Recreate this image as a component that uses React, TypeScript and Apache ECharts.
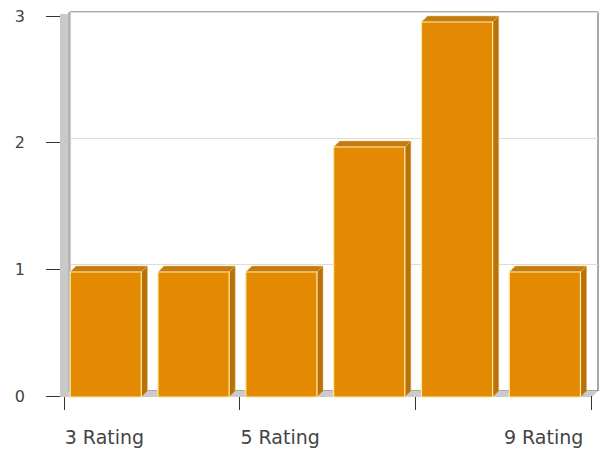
import React, { useEffect, useRef } from "react";
import * as echarts from "echarts";

const categories = ["3 Rating", "4 Rating", "5 Rating", "7 Rating", "8 Rating", "9 Rating"];
const counts = [1, 1, 1, 2, 3, 1];
const yTicks = [0, 1, 2, 3];
const shownLabelIdx = [0, 2, 5];

const W = 599;
const H = 453;
const DEPTH = 6;
const G_LEFT = 64;
const G_RIGHT = 8;
const G_BOTTOM_Y = 397;

export default function App() {
  const ref = useRef<HTMLDivElement>(null);
  useEffect(() => {
    if (!ref.current) return;
    const chart = echarts.init(ref.current, null, { renderer: "svg", width: W, height: H });
    const yMax = yTicks[yTicks.length - 1];
    const font = "DejaVu Sans";
    const option: any = {
      animation: false,
      backgroundColor: "#fff",
      grid: [
        { left: G_LEFT, right: G_RIGHT, top: 16, bottom: 57 },
        { left: G_LEFT, right: G_RIGHT, top: 22, bottom: 56 },
        {
          left: 70, right: 1, top: 12, bottom: 62, show: true,
          backgroundColor: "#fff", borderColor: "#555", borderWidth: 1, z: 0,
        },
      ],
      xAxis: [
        {
          gridIndex: 0, type: "category", data: categories, position: "bottom",
          axisLine: { show: false },
          axisTick: { show: true, interval: 1, length: 14, lineStyle: { color: "#333", width: 1 } },
          axisLabel: {
            interval: (i: number) => shownLabelIdx.includes(i),
            margin: 31, fontFamily: font, fontSize: 19, color: "#444", padding: [0, 7, 0, 0],
          },
        },
        { gridIndex: 1, type: "category", data: categories, show: false },
        { gridIndex: 2, type: "category", data: categories, show: false },
      ],
      yAxis: [
        {
          gridIndex: 0, type: "value", min: 0, max: yMax, interval: 1,
          axisLine: { show: false },
          axisTick: { show: true, length: 18, lineStyle: { color: "#333", width: 1 } },
          axisLabel: { margin: 39, fontFamily: font, fontSize: 16, color: "#444" },
          splitLine: { show: false },
        },
        { gridIndex: 1, type: "value", min: 0, max: yMax, interval: 1, show: false, splitLine: { show: false } },
        {
          gridIndex: 2, type: "value", min: 0, max: yMax, interval: 1,
          axisLine: { show: false }, axisTick: { show: false }, axisLabel: { show: false },
          splitLine: { show: true, lineStyle: { color: "#dcdcdc", width: 1 } },
        },
      ],
      graphic: [
        {
          type: "rect", z: 1, silent: true,
          shape: { x: 60, y: 14, width: 11, height: 383 },
          style: { fill: "#c9c9c9" },
        },
        {
          type: "rect", z: 1, silent: true,
          shape: { x: 68, y: 12, width: 2, height: 380 },
          style: { fill: "#b5b5b5" },
        },
        {
          type: "polygon", z: 1, silent: true,
          shape: { points: [[64, 397], [70, 391], [598, 391], [592, 397]] },
          style: { fill: "#cbcbcb" },
        },
        {
          type: "line", z: 6, silent: true,
          shape: { x1: W - G_RIGHT + 0.5, y1: G_BOTTOM_Y - 1, x2: W - G_RIGHT + 0.5, y2: G_BOTTOM_Y + 13 },
          style: { stroke: "#333", lineWidth: 1 },
        },
      ],
      series: [
        {
          type: "custom",
          xAxisIndex: 1,
          yAxisIndex: 1,
          z: 5,
          data: counts.map((v, i) => [i, v]),
          renderItem: (params: any, api: any) => {
            const idx = api.value(0);
            const val = api.value(1);
            const top = api.coord([idx, val]);
            const base = api.coord([idx, 0]);
            const bw = api.size([1, 0])[0];
            const fl = top[0] - bw / 2 + bw * 0.07;
            const fw = bw * 0.81;
            const ty = top[1];
            const by = base[1];
            const d = DEPTH;
            return {
              type: "group",
              children: [
                {
                  type: "polygon",
                  shape: { points: [[fl + fw, ty], [fl + fw + d, ty - d], [fl + fw + d, by - d], [fl + fw, by]] },
                  style: { fill: "#b9720a", stroke: "#d9a040", lineWidth: 0.5 },
                },
                {
                  type: "polygon",
                  shape: { points: [[fl, ty], [fl + d, ty - d], [fl + fw + d, ty - d], [fl + fw, ty]] },
                  style: { fill: "#c47c12", stroke: "#f2c060", lineWidth: 0.5 },
                },
                {
                  type: "rect",
                  shape: { x: fl, y: ty, width: fw, height: by - ty },
                  style: { fill: "#e38a02", stroke: "#ffeaa0", lineWidth: 1.2 },
                },
              ],
            };
          },
        },
      ],
    };
    chart.setOption(option);
    return () => chart.dispose();
  }, []);
  return <div ref={ref} style={{ position: "fixed", left: 0, top: 0, width: W, height: H }} />;
}
